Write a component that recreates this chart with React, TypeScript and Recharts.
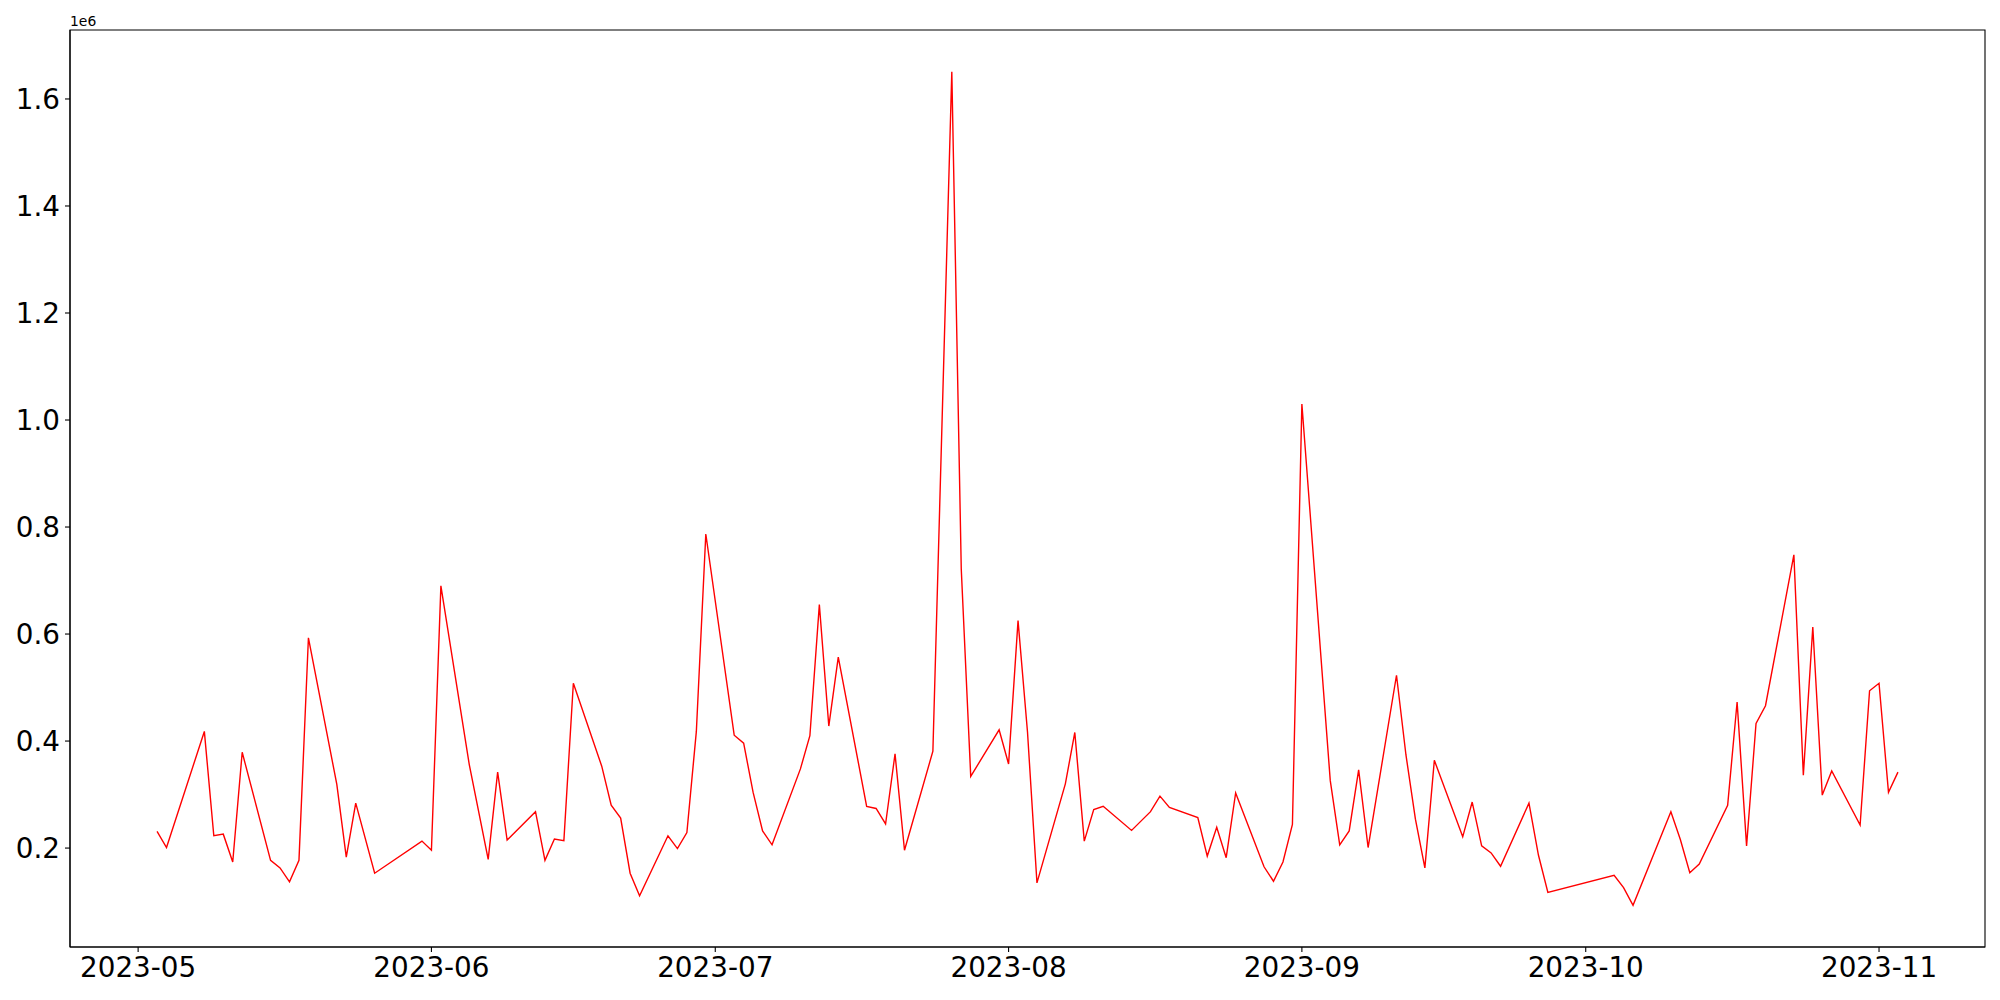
import React from 'react';
import { LineChart, Line, XAxis, YAxis, ReferenceArea } from 'recharts';

const dates: string[] = [
  '2023-05-03', '2023-05-04', '2023-05-08', '2023-05-09', '2023-05-10', '2023-05-11', '2023-05-12',
  '2023-05-15', '2023-05-16', '2023-05-17', '2023-05-18', '2023-05-19', '2023-05-22', '2023-05-23',
  '2023-05-24', '2023-05-26', '2023-05-31', '2023-06-01', '2023-06-02', '2023-06-05', '2023-06-07',
  '2023-06-08', '2023-06-09', '2023-06-12', '2023-06-13', '2023-06-14', '2023-06-15', '2023-06-16',
  '2023-06-19', '2023-06-20', '2023-06-21', '2023-06-22', '2023-06-23', '2023-06-26', '2023-06-27',
  '2023-06-28', '2023-06-29', '2023-06-30', '2023-07-03', '2023-07-04', '2023-07-05', '2023-07-06',
  '2023-07-07', '2023-07-10', '2023-07-11', '2023-07-12', '2023-07-13', '2023-07-14', '2023-07-17',
  '2023-07-18', '2023-07-19', '2023-07-20', '2023-07-21', '2023-07-24', '2023-07-26', '2023-07-27',
  '2023-07-28', '2023-07-31', '2023-08-01', '2023-08-02', '2023-08-03', '2023-08-04', '2023-08-07',
  '2023-08-08', '2023-08-09', '2023-08-10', '2023-08-11', '2023-08-14', '2023-08-16', '2023-08-17',
  '2023-08-18', '2023-08-21', '2023-08-22', '2023-08-23', '2023-08-24', '2023-08-25', '2023-08-28',
  '2023-08-29', '2023-08-30', '2023-08-31', '2023-09-01', '2023-09-04', '2023-09-05', '2023-09-06',
  '2023-09-07', '2023-09-08', '2023-09-11', '2023-09-12', '2023-09-13', '2023-09-14', '2023-09-15',
  '2023-09-18', '2023-09-19', '2023-09-20', '2023-09-21', '2023-09-22', '2023-09-25', '2023-09-26',
  '2023-09-27', '2023-10-04', '2023-10-05', '2023-10-06', '2023-10-10', '2023-10-11', '2023-10-12',
  '2023-10-13', '2023-10-16', '2023-10-17', '2023-10-18', '2023-10-19', '2023-10-20', '2023-10-23',
  '2023-10-24', '2023-10-25', '2023-10-26', '2023-10-27', '2023-10-30', '2023-10-31', '2023-11-01',
  '2023-11-02', '2023-11-03',
];

const values: number[] = [
  231000, 201000, 418000, 223000, 226000, 174000, 379000,
  177000, 163000, 137000, 177000, 593000, 319000, 183000,
  284000, 153000, 213000, 196000, 690000, 356000, 179000,
  342000, 215000, 268000, 177000, 217000, 214000, 508000,
  353000, 280000, 256000, 153000, 111000, 223000, 199000,
  229000, 418000, 787000, 411000, 396000, 304000, 232000,
  206000, 348000, 410000, 655000, 428000, 557000, 278000,
  274000, 245000, 376000, 196000, 381000, 1651000, 721000,
  334000, 421000, 357000, 625000, 417000, 135000, 320000,
  416000, 213000, 272000, 278000, 233000, 268000, 297000,
  276000, 257000, 185000, 239000, 182000, 303000, 165000,
  138000, 174000, 244000, 1030000, 326000, 206000, 232000,
  346000, 201000, 523000, 374000, 254000, 163000, 364000,
  221000, 286000, 204000, 191000, 166000, 284000, 187000,
  117000, 149000, 126000, 93000, 268000, 216000, 154000,
  170000, 280000, 473000, 204000, 433000, 466000, 748000,
  336000, 613000, 299000, 344000, 243000, 494000, 508000,
  304000, 342000,
];

const monthTicks: string[] = ['2023-05', '2023-06', '2023-07', '2023-08', '2023-09', '2023-10', '2023-11'];
const yTicks: number[] = [200000, 400000, 600000, 800000, 1000000, 1200000, 1400000, 1600000];

const toMs = (d: string) => Date.parse(d + 'T00:00:00Z');
const data = dates.map((d, i) => ({ t: toMs(d), v: values[i] }));

const tMin = Math.min(...data.map((p) => p.t));
const tMax = Math.max(...data.map((p) => p.t));
const tPad = (tMax - tMin) * 0.05;
const xDomain: [number, number] = [tMin - tPad, tMax + tPad];

const vMin = Math.min(...values);
const vMax = Math.max(...values);
const vPad = (vMax - vMin) * 0.05;
const yDomain: [number, number] = [vMin - vPad, vMax + vPad];

const xTicks = monthTicks.map((m) => toMs(m + '-01'));
const fmtX = (t: number) => new Date(t).toISOString().slice(0, 7);
const fmtY = (v: number) => (v / 1e6).toFixed(1);

const FONT = 'DejaVu Sans';
const tickStyle = { fontSize: 27.8, fill: '#000', fontFamily: FONT };

export default function App() {
  return (
    <div style={{ position: 'absolute', left: 0, top: 0, width: 2000, height: 1000, background: '#fff' }}>
      <LineChart width={2000} height={1000} data={data} margin={{ top: 30, right: 15, bottom: 0, left: 0 }}>
        <XAxis
          dataKey="t"
          type="number"
          domain={xDomain}
          ticks={xTicks}
          tickFormatter={fmtX}
          height={53}
          tickSize={5}
          tickMargin={5}
          tick={tickStyle}
          axisLine={{ stroke: '#000', strokeWidth: 1.1 }}
          tickLine={{ stroke: '#000', strokeWidth: 1.1 }}
          allowDataOverflow
          interval={0}
        />
        <YAxis
          type="number"
          domain={yDomain}
          ticks={yTicks}
          tickFormatter={fmtY}
          width={70}
          tickSize={5}
          tickMargin={5}
          tick={tickStyle}
          axisLine={{ stroke: '#000', strokeWidth: 1.1 }}
          tickLine={{ stroke: '#000', strokeWidth: 1.1 }}
          allowDataOverflow
          interval={0}
        />
        <ReferenceArea
          x1={xDomain[0]}
          x2={xDomain[1]}
          y1={yDomain[0]}
          y2={yDomain[1]}
          fill="none"
          fillOpacity={0}
          stroke="#000"
          strokeWidth={1.1}
          ifOverflow="visible"
        />
        <Line
          type="linear"
          dataKey="v"
          stroke="#ff0000"
          strokeWidth={1.4}
          dot={false}
          activeDot={false}
          isAnimationActive={false}
        />
      </LineChart>
      <svg style={{ position: 'absolute', left: 0, top: 0 }} width={200} height={30}>
        <text x={70} y={26} fontSize={13.9} fontFamily={FONT} fill="#000">1e6</text>
      </svg>
    </div>
  );
}
